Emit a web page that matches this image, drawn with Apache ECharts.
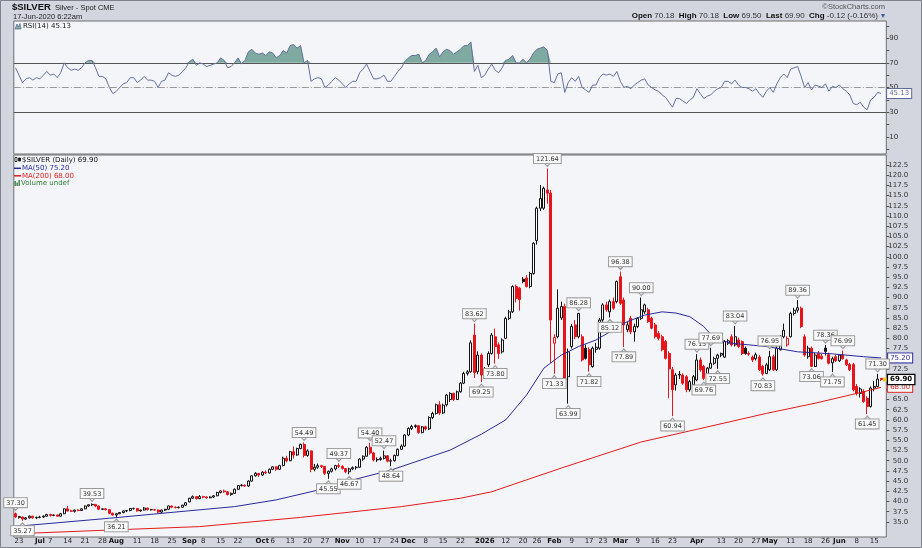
<!DOCTYPE html>
<html>
<head>
<meta charset="utf-8">
<title>$SILVER</title>
<script src="https://cdn.jsdelivr.net/npm/echarts@6.0.0/dist/echarts.min.js"></script>
<style>
html,body{margin:0;padding:0;background:#d3d6de;overflow:hidden}
#chart{width:922px;height:548px}
</style>
</head>
<body>
<div id="chart"></div>
<script>
// ---------- DATA ----------
const startDate = '2025-06-20';
const endDate = '2026-06-17';
const holidays = ['2025-07-04','2025-09-01','2025-11-27','2025-12-25','2026-01-01','2026-01-19','2026-02-16','2026-04-03','2026-05-25'];

// candles per month: [open, high, low, close]
const jun25 = [[37.0,37.30,36.0,36.2],[36.1,36.4,35.8,36.3],[36.2,36.3,35.27,35.7],[35.7,36.2,35.5,36.0],[36.0,36.6,35.8,36.4],[36.4,36.5,35.8,36.0],[36.0,36.3,35.7,36.1]];
const jul25 = [[36.1,36.5,35.9,36.2],[36.2,36.6,36.0,36.4],[36.4,37.0,36.3,36.8],[36.8,37.0,36.3,36.6],[36.6,36.8,36.4,36.7],[36.7,36.8,36.3,36.4],[36.4,37.2,36.3,37.0],[37.0,38.3,36.9,38.2],[38.2,38.9,37.5,37.7],[37.7,38.0,37.4,37.6],[37.6,38.0,37.3,37.9],[37.9,38.1,37.6,37.8],[37.8,38.3,37.7,38.2],[38.2,39.0,38.1,38.9],[38.9,39.3,38.7,39.2],[39.2,39.53,38.9,39.3],[39.3,39.4,38.6,38.9],[38.9,39.0,37.9,38.1],[38.1,38.3,37.9,38.2],[38.2,38.4,37.8,38.0],[38.0,38.1,36.9,37.1],[37.1,37.3,36.5,36.7]];
const aug25 = [[36.7,37.2,36.21,37.0],[37.0,37.4,36.9,37.3],[37.3,37.8,37.1,37.7],[37.7,37.9,37.4,37.8],[37.8,38.4,37.6,38.3],[38.3,38.5,38.0,38.3],[38.3,38.4,37.5,37.7],[37.7,38.0,37.5,37.9],[37.9,38.6,37.8,38.4],[38.4,38.5,37.8,38.0],[38.0,38.2,37.8,38.0],[38.0,38.2,37.8,37.9],[37.9,38.0,37.2,37.4],[37.4,38.0,37.1,37.9],[37.9,38.2,37.7,38.1],[38.1,39.0,37.9,38.9],[38.9,39.0,38.4,38.6],[38.6,38.8,38.3,38.5],[38.5,38.8,38.3,38.6],[38.6,39.2,38.5,39.1],[39.1,39.8,39.0,39.7]];
const sep25 = [[39.9,40.9,39.8,40.8],[40.8,41.5,40.6,41.2],[41.2,41.3,40.5,40.7],[40.7,41.6,40.6,41.2],[41.2,41.4,40.8,41.1],[41.1,41.3,40.7,40.9],[40.9,41.3,40.8,41.1],[41.1,41.6,40.9,41.4],[41.4,42.4,41.3,42.2],[42.2,42.7,42.0,42.6],[42.6,42.9,42.1,42.4],[42.4,42.5,41.5,41.7],[41.7,42.2,41.4,42.0],[42.0,43.2,41.9,43.0],[43.0,44.0,42.9,43.9],[43.9,44.3,43.7,44.0],[44.0,44.2,43.6,43.8],[43.8,45.2,43.6,45.0],[45.0,46.4,44.9,46.3],[46.3,47.2,46.1,46.9],[46.9,47.0,46.0,46.5]];
const oct25 = [[46.5,47.4,46.3,47.2],[47.2,47.6,46.8,47.0],[47.0,48.1,46.9,47.9],[47.9,48.7,47.7,48.5],[48.5,48.6,47.5,47.9],[47.9,49.0,47.7,48.8],[48.8,51.0,48.6,50.6],[50.6,51.2,49.6,50.0],[50.0,52.4,49.9,52.2],[52.2,53.5,50.5,51.4],[51.4,53.2,51.2,53.0],[53.0,54.2,52.8,54.0],[54.0,54.49,50.8,51.3],[51.3,52.8,51.0,52.4],[52.4,52.5,47.2,47.9],[47.9,49.2,47.4,48.4],[48.4,49.3,48.0,48.8],[48.8,49.0,48.2,48.6],[48.6,48.7,46.5,46.9],[46.9,47.6,45.55,47.4],[47.4,48.3,47.1,48.0],[48.0,49.0,47.6,48.8],[48.8,49.37,48.2,48.6]];
const nov25 = [[48.6,48.9,47.8,48.1],[48.1,48.2,46.9,47.3],[47.3,48.3,46.67,48.0],[48.0,48.6,47.7,48.3],[48.3,48.7,47.8,48.4],[48.4,50.6,48.2,50.4],[50.4,51.3,50.0,51.1],[51.1,53.6,51.0,53.3],[53.3,54.40,51.5,51.9],[51.9,52.2,49.8,50.2],[50.2,50.8,49.7,50.3],[50.3,51.0,50.0,50.6],[50.6,52.47,50.3,51.2],[51.2,51.4,49.6,49.9],[49.9,50.5,48.64,50.0],[50.0,51.5,49.8,51.3],[51.3,53.0,51.1,52.8],[52.8,54.0,52.6,53.6],[53.6,56.5,53.4,56.3]];
const dec25 = [[56.3,58.2,56.0,57.9],[57.9,58.8,57.5,58.4],[58.4,58.9,58.0,58.6],[58.6,58.7,56.6,56.9],[56.9,58.5,56.7,58.3],[58.3,58.6,57.4,57.8],[57.8,60.9,57.5,60.6],[60.6,62.0,60.2,61.6],[61.6,64.0,61.3,63.7],[63.7,64.6,61.2,61.7],[61.7,64.0,61.5,63.6],[63.7,66.4,63.3,66.1],[65.0,66.8,64.4,66.5],[66.5,66.7,64.6,65.0],[65.0,67.2,64.9,66.9],[66.9,69.3,66.7,69.0],[69.0,71.8,68.8,71.4],[71.4,72.2,70.9,71.8],[71.8,79.5,71.6,78.9],[80.8,83.62,70.3,71.6],[71.8,76.8,71.2,75.9],[75.9,76.3,69.25,71.0]];
const jan26 = [[71.0,73.0,70.4,72.6],[73.5,76.8,73.0,76.3],[76.3,81.3,76.0,80.8],[80.4,82.4,73.80,78.0],[78.4,79.0,75.0,76.3],[76.7,80.0,76.3,79.6],[80.0,85.3,79.8,84.9],[84.9,87.0,84.5,86.5],[86.5,93.0,86.2,92.7],[92.7,93.2,88.8,89.8],[92.3,92.6,86.8,89.5],[94.5,95.0,93.5,93.9],[94.8,95.5,92.5,92.7],[92.7,96.3,92.3,95.9],[95.9,103.6,95.6,103.3],[104.0,112.3,103.0,111.9],[111.9,117.6,111.2,114.3],[111.9,117.2,111.5,116.8],[116.4,121.64,113.0,115.6],[115.6,116.4,74.0,84.5]];
const feb26 = [[78.8,81.0,71.33,80.2],[80.4,92.0,80.0,87.4],[85.0,89.0,84.5,87.8],[87.8,88.5,69.5,70.2],[70.6,77.5,63.99,76.7],[78.0,83.5,77.5,82.9],[83.3,84.5,79.8,80.4],[80.4,86.28,80.0,86.1],[80.4,81.0,74.3,74.7],[77.6,78.5,74.8,75.1],[77.2,77.8,71.82,73.5],[73.1,78.0,72.8,77.6],[77.3,78.9,76.5,77.8],[77.6,85.0,77.2,84.5],[84.5,88.6,84.0,88.2],[88.2,89.0,86.5,87.0],[86.5,89.5,85.12,89.0],[89.0,90.0,87.0,87.4],[89.0,94.2,88.6,93.9]];
const mar26 = [[95.1,96.38,88.2,88.6],[89.4,90.0,77.89,83.3],[82.1,84.0,81.5,83.3],[84.9,85.5,81.0,81.6],[81.6,83.6,79.2,82.9],[82.9,85.2,82.5,84.9],[84.9,90.00,84.5,87.0],[86.5,88.5,86.0,88.2],[87.0,87.5,83.8,84.1],[84.9,85.3,82.2,82.5],[83.3,83.8,80.0,80.4],[81.2,81.8,79.5,80.0],[80.4,80.9,76.8,77.2],[79.2,79.6,74.8,75.1],[76.3,76.8,65.3,72.5],[72.3,73.0,60.94,67.4],[68.6,71.5,67.2,71.0],[71.0,72.0,70.0,71.2],[71.0,71.4,68.6,69.0],[70.6,71.0,66.8,67.4],[67.4,69.8,66.9,69.4],[68.6,71.0,68.2,70.6]];
const apr26 = [[69.8,76.13,69.5,74.7],[74.7,75.3,71.8,72.3],[73.1,73.5,69.76,70.2],[70.5,73.0,70.0,72.7],[72.7,77.69,72.5,73.9],[73.9,75.5,73.5,75.1],[75.1,76.2,72.55,75.9],[75.9,76.5,75.4,76.3],[75.4,79.6,75.2,79.2],[78.8,79.8,78.4,79.4],[80.4,81.0,78.0,78.4],[78.4,83.04,78.0,80.4],[79.6,80.2,77.6,78.0],[79.2,79.5,75.9,76.3],[77.6,78.0,76.0,76.3],[76.3,76.8,75.7,76.1],[75.4,75.8,74.2,74.7],[75.0,76.5,74.6,76.0],[75.4,75.9,72.0,72.3],[73.1,73.5,70.83,71.3],[71.4,74.0,71.2,73.5]];
const may26 = [[72.3,76.95,72.0,75.5],[75.5,76.0,72.0,72.3],[72.3,78.0,72.0,77.6],[77.2,80.8,77.0,80.4],[80.4,83.6,80.0,82.0],[78.4,80.5,78.0,80.0],[80.4,86.5,80.2,86.1],[86.1,87.5,85.6,86.9],[86.9,89.36,86.3,87.5],[87.4,87.8,82.5,82.9],[80.4,81.0,75.5,75.9],[75.5,78.2,75.0,77.6],[77.6,78.0,73.06,73.1],[73.1,76.5,73.0,75.9],[76.3,76.9,74.8,75.1],[75.6,76.2,74.8,75.0],[77.6,78.36,75.8,76.8],[76.0,76.5,73.6,73.9],[74.0,75.5,71.75,75.0],[75.5,76.0,74.2,74.5]];
const jun26 = [[74.5,76.0,74.2,75.9],[75.9,76.99,74.8,75.0],[74.7,75.0,73.2,73.5],[73.6,74.0,72.0,72.3],[73.6,74.0,67.0,67.4],[68.2,68.8,66.0,66.5],[66.5,68.0,65.5,67.6],[67.0,67.5,64.2,64.5],[65.3,65.8,61.45,63.3],[63.3,68.2,63.0,67.8],[67.8,69.5,67.0,68.2],[68.2,71.30,68.0,70.02],[70.18,70.18,69.50,69.90]];

// moving averages: [date, value]
const ma50Pts = [['2025-06-20',33.9],['2025-07-30',35.9],['2025-08-20',37.1],['2025-09-19',38.75],['2025-10-07',40.4],['2025-10-27',43.2],['2025-11-07',45.5],['2025-11-21',47.7],['2025-12-17',52.6],['2025-12-31',56.5],['2026-01-12',60.0],['2026-01-21',66.1],['2026-01-28',72.7],['2026-02-04',75.9],['2026-02-11',78.0],['2026-02-19',79.6],['2026-02-26',82.1],['2026-03-04',84.1],['2026-03-11',85.7],['2026-03-18',86.5],['2026-03-24',86.2],['2026-03-30',85.3],['2026-04-06',82.9],['2026-04-09',80.0],['2026-04-16',78.8],['2026-04-30',78.0],['2026-05-13',76.7],['2026-05-28',76.2],['2026-06-10',75.5],['2026-06-17',75.2]];
const ma200Pts = [['2025-06-20',32.1],['2025-07-25',32.9],['2025-09-05',33.85],['2025-10-16',36.1],['2025-11-26',38.75],['2025-12-22',40.8],['2026-01-06',42.4],['2026-01-21',45.3],['2026-02-04',48.2],['2026-03-10',54.6],['2026-04-01',57.7],['2026-04-30',61.6],['2026-05-20',64.1],['2026-06-10',66.9],['2026-06-17',68.0]];

// RSI(14), one value per trading day
const rsi = [
66,60,54,57,58,56,58,57,60,63,
60,61,58,62,70,66,64,65,64,66,
70,72,72,66,59,59,57,50,45,47,
50,53,54,58,58,54,56,59,56,56,
55,50,55,56,62,60,59,60,63,66,
71,73,68,70,69,67,68,69,70,74,
72,66,67,70,74,69,72,79,81,78,
77,78,76,79,78,74,76,80,78,84,
85,82,84,70,72,55,57,58,57,50,
52,55,58,56,53,50,53,55,55,62,
65,69,63,57,57,58,60,55,55,59,
63,66,71,74,76,76,77,70,72,77,
79,82,75,79,81,80,77,79,81,84,
84,87,63,68,58,60,65,69,64,62,
66,72,73,76,70,70,73,70,73,78,
81,82,83,80,55,54,61,62,46,54,
58,55,59,50,48,46,52,52,58,61,
60,61,59,63,55,50,51,49,52,54,
56,57,52,50,48,47,44,42,38,34,
41,41,39,37,40,42,49,45,41,43,
44,47,49,50,55,55,53,56,52,50,
50,49,47,49,45,42,47,50,46,53,
58,61,58,65,66,67,59,50,54,48,
52,51,50,53,47,51,50,52,49,47,
44,37,36,38,34,32,40,42,46,45.13];

// annotated highs / lows
const highLabels = [['2025-06-20',37.30],['2025-07-23',39.53],['2025-10-17',54.49],['2025-10-31',49.37],['2025-11-13',54.40],['2025-11-19',52.47],['2025-12-29',83.62],['2026-01-29',121.64],['2026-02-11',86.28],['2026-03-02',96.38],['2026-03-10',90.00],['2026-04-01',76.13],['2026-04-08',77.69],['2026-04-17',83.04],['2026-05-01',76.95],['2026-05-13',89.36],['2026-05-26',78.36],['2026-06-02',76.99],['2026-06-16',71.30]];
const lowLabels = [['2025-06-24',35.27],['2025-08-01',36.21],['2025-10-28',45.55],['2025-11-05',46.67],['2025-11-21',48.64],['2025-12-31',69.25],['2026-01-07',73.80],['2026-02-02',71.33],['2026-02-06',63.99],['2026-02-17',71.82],['2026-02-25',85.12],['2026-03-03',77.89],['2026-03-23',60.94],['2026-04-06',69.76],['2026-04-10',72.55],['2026-04-29',70.83],['2026-05-19',73.06],['2026-05-28',71.75],['2026-06-11',61.45]];

// x-axis tick labels
const xTickLabels = [['2025-06-23','23'],['2025-07-01','Jul'],['2025-07-07','7'],['2025-07-14','14'],['2025-07-21','21'],['2025-07-28','28'],['2025-08-01','Aug'],['2025-08-11','11'],['2025-08-18','18'],['2025-08-25','25'],['2025-09-02','Sep'],['2025-09-08','8'],['2025-09-15','15'],['2025-09-22','22'],['2025-10-01','Oct'],['2025-10-06','6'],['2025-10-13','13'],['2025-10-20','20'],['2025-10-27','27'],['2025-11-03','Nov'],['2025-11-10','10'],['2025-11-17','17'],['2025-11-24','24'],['2025-12-01','Dec'],['2025-12-08','8'],['2025-12-15','15'],['2025-12-22','22'],['2026-01-02','2026'],['2026-01-12','12'],['2026-01-20','20'],['2026-01-26','26'],['2026-02-02','Feb'],['2026-02-09','9'],['2026-02-17','17'],['2026-02-23','23'],['2026-03-02','Mar'],['2026-03-09','9'],['2026-03-16','16'],['2026-03-23','23'],['2026-04-01','Apr'],['2026-04-13','13'],['2026-04-20','20'],['2026-04-27','27'],['2026-05-01','May'],['2026-05-11','11'],['2026-05-18','18'],['2026-05-26','26'],['2026-06-01','Jun'],['2026-06-08','8'],['2026-06-15','15']];
const priceTicks = [35,37.5,40,42.5,45,47.5,50,52.5,55,57.5,60,62.5,65,67.5,70,72.5,75,77.5,80,82.5,85,87.5,90,92.5,95,97.5,100,102.5,105,107.5,110,112.5,115,117.5,120,122.5];
const rsiTickMarks = [0,10,20,30,40,50,60,70,80,90,100];
const rsiTickLabels = [10,30,50,70,90];

const lastValues = { close: 69.90, ma50: 75.20, ma200: 68.00, rsi: 45.13 };

// ---------- BUILD ----------
function tradingDays(s, e) {
  const out = [];
  const d = new Date(s + 'T00:00:00Z'), end = new Date(e + 'T00:00:00Z');
  while (d <= end) {
    const wd = d.getUTCDay(), k = d.toISOString().slice(0, 10);
    if (wd !== 0 && wd !== 6 && holidays.indexOf(k) < 0) out.push(k);
    d.setUTCDate(d.getUTCDate() + 1);
  }
  return out;
}
const dates = tradingDays(startDate, endDate);
const cats = dates.concat(['2026-06-18']); // right margin slot
const ohlc = [].concat(jun25, jul25, aug25, sep25, oct25, nov25, dec25, jan26, feb26, mar26, apr26, may26, jun26);
if (ohlc.length !== dates.length) console.warn('length mismatch', ohlc.length, dates.length);

const RED = '#e8141b', BLACK = '#111111';
const candleData = ohlc.map((r, i) => {
  const [o, h, l, c] = r;
  const prev = i > 0 ? ohlc[i - 1][3] : o;
  const col = c < prev ? RED : BLACK;
  const fill = c >= o ? '#ffffff' : col;
  return { value: [o, c, l, h], itemStyle: { color: fill, color0: fill, borderColor: col, borderColor0: col } };
});
function sparse(pts) {
  const arr = cats.map(() => null);
  pts.forEach(([d, v]) => { const k = cats.indexOf(d); if (k >= 0) arr[k] = v; });
  return arr;
}
const lastDate = dates[dates.length - 1];
const FONT = 'DejaVu Sans', SANS = 'Liberation Sans';

const boxLabel = { show: true, fontFamily: FONT, fontSize: 6.5, color: '#333', backgroundColor: '#f9f9f9',
  borderColor: '#9a9a9a', borderWidth: 1, padding: [1, 2, 0, 2], lineHeight: 8 };
const annPts = highLabels.map(([d, v]) => ({ coord: [d, v], symbol: 'triangle', symbolSize: [7, 4], symbolRotate: 180,
  symbolOffset: [0, -4], itemStyle: { color: '#f9f9f9', borderColor: '#9a9a9a', borderWidth: 1 },
  label: Object.assign({}, boxLabel, { position: 'top', distance: -1, formatter: v.toFixed(2) }) }))
 .concat(lowLabels.map(([d, v]) => ({ coord: [d, v], symbol: 'triangle', symbolSize: [7, 4], symbolRotate: 0,
  symbolOffset: [0, 4], itemStyle: { color: '#f9f9f9', borderColor: '#9a9a9a', borderWidth: 1 },
  label: Object.assign({}, boxLabel, { position: 'bottom', distance: -1, formatter: v.toFixed(2) }) })));

function tag(val, color, bold, dist) {
  return { coord: [lastDate, val], symbol: 'circle', symbolSize: 0.1, itemStyle: { color: 'rgba(0,0,0,0)' },
    label: { show: true, position: 'right', distance: dist, formatter: val.toFixed(2), fontFamily: FONT, fontSize: 7,
      fontWeight: bold ? 'bold' : 'normal', color: bold ? '#000' : color, backgroundColor: '#fff', borderColor: color,
      borderWidth: bold ? 1.3 : 1, padding: [1, 2, 0, 2], lineHeight: 8 } };
}
annPts.push({ coord: [lastDate, lastValues.close], symbol: 'rect', symbolSize: [4, 4], symbolOffset: [4, 0],
  itemStyle: { color: '#f2cf1a' },
  label: { show: true, position: 'right', distance: 1, formatter: lastValues.close.toFixed(2), fontFamily: FONT, fontSize: 7,
    fontWeight: 'bold', color: '#000', backgroundColor: '#fff', borderColor: '#000', borderWidth: 1.3, padding: [1, 2, 0, 2], lineHeight: 8 } });

const labelMap = new Map(xTickLabels);
const rsiOver = rsi.map(v => Math.max(v - 70, 0));
const rsiBase = rsi.map(() => 70);

const GL = 13.8, GR = 35.7;
const option = {
  animation: false,
  backgroundColor: '#d3d6de',
  grid: [
    { left: GL, right: GR, top: 21, height: 133, show: true, backgroundColor: '#f4f5f9', borderColor: '#6e6e6e', borderWidth: 1 },
    { left: GL, right: GR, top: 155, height: 382, show: true, backgroundColor: '#f4f5f9', borderColor: '#6e6e6e', borderWidth: 1 }
  ],
  xAxis: [
    { type: 'category', gridIndex: 0, data: cats, boundaryGap: true, axisLine: { show: false }, axisTick: { show: false }, axisLabel: { show: false }, splitLine: { show: false } },
    { type: 'category', gridIndex: 1, data: cats, boundaryGap: true, axisLine: { show: false }, axisTick: { show: false }, splitLine: { show: false },
      axisLabel: { interval: (i, v) => labelMap.has(v), margin: 1,
        formatter: v => { const t = labelMap.get(v); if (!t) return ''; return /^[0-9]{1,2}$/.test(t) ? t : '{b|' + t + '}'; },
        fontFamily: FONT, fontSize: 7, color: '#222',
        rich: { b: { fontFamily: FONT, fontSize: 7, fontWeight: 'bold', color: '#111' } } } }
  ],
  yAxis: [
    { type: 'value', gridIndex: 0, position: 'right', min: -4, max: 104, splitLine: { show: false }, axisLine: { show: false },
      axisTick: { show: true, length: 3, customValues: rsiTickMarks, lineStyle: { color: '#555' } },
      axisLabel: { customValues: rsiTickLabels, fontFamily: FONT, fontSize: 7, color: '#333', margin: 3 } },
    { type: 'value', gridIndex: 1, position: 'right', min: 31.3, max: 124.95, splitLine: { show: false }, axisLine: { show: false },
      axisTick: { show: true, length: 3, customValues: priceTicks, lineStyle: { color: '#555' } },
      axisLabel: { customValues: priceTicks, fontFamily: FONT, fontSize: 7, color: '#333', margin: 22, align: 'right',
        formatter: v => v.toFixed(1) } }
  ],
  series: [
    { name: 'base', type: 'line', xAxisIndex: 0, yAxisIndex: 0, stack: 'rsi', data: rsiBase, symbol: 'none', silent: true,
      lineStyle: { width: 0, opacity: 0 } },
    { name: 'over', type: 'line', xAxisIndex: 0, yAxisIndex: 0, stack: 'rsi', data: rsiOver, symbol: 'none', silent: true,
      lineStyle: { width: 0, opacity: 0 }, areaStyle: { color: '#7eaa9f', opacity: 1 } },
    { name: 'RSI', type: 'line', xAxisIndex: 0, yAxisIndex: 0, data: rsi, symbol: 'none', z: 5,
      lineStyle: { color: '#64719f', width: 1 },
      markLine: { silent: true, symbol: ['none', 'none'], label: { show: false }, animation: false,
        data: [ { yAxis: 70, lineStyle: { color: '#555', width: 1, type: 'solid' } },
                { yAxis: 30, lineStyle: { color: '#555', width: 1, type: 'solid' } },
                { yAxis: 50, lineStyle: { color: '#9a9a9a', width: 1, type: [7, 2, 1, 2] } } ] },
      markPoint: { silent: true, data: [ tag(lastValues.rsi, '#5d6a9c', false, 6) ] } },
    { name: 'SILVER', type: 'candlestick', xAxisIndex: 1, yAxisIndex: 1, data: candleData, barWidth: 2.5, z: 3,
      markPoint: { silent: true, data: annPts, z: 10 } },
    { name: 'MA50', type: 'line', xAxisIndex: 1, yAxisIndex: 1, data: sparse(ma50Pts), connectNulls: true, symbol: 'none', z: 4,
      lineStyle: { color: '#2a2a9c', width: 1 }, markPoint: { silent: true, data: [ tag(lastValues.ma50, '#2a2a9c', false, 7) ] } },
    { name: 'MA200', type: 'line', xAxisIndex: 1, yAxisIndex: 1, data: sparse(ma200Pts), connectNulls: true, symbol: 'none', z: 4,
      lineStyle: { color: '#e31b1b', width: 1 }, markPoint: { silent: true, data: [ tag(lastValues.ma200, '#e31b1b', false, 7) ] } }
  ],
  graphic: [
    { type: 'rect', silent: true, shape: { x: 0.5, y: 0.5, width: 921, height: 547 }, style: { fill: 'none', stroke: '#80838b', lineWidth: 1 } },
    { type: 'text', x: 12, y: 7.5, style: { text: '$SILVER', font: 'bold 9.5px "Liberation Sans"', fill: '#111', verticalAlign: 'middle' } },
    { type: 'text', x: 55, y: 7.5, style: { text: 'Silver - Spot CME', font: '7.5px "Liberation Sans"', fill: '#222', verticalAlign: 'middle' } },
    { type: 'text', x: 13, y: 16.5, style: { text: '17-Jun-2020 6:22am', font: '7.5px "Liberation Sans"', fill: '#222', verticalAlign: 'middle' } },
    { type: 'text', x: 885, y: 7, style: { text: '\u00a9StockCharts.com', font: '7.5px "Liberation Sans"', fill: '#555', align: 'right', verticalAlign: 'middle' } },
    { type: 'text', x: 878, y: 16, style: { text: '{b|Open} 70.18  {b|High} 70.18  {b|Low} 69.50  {b|Last} 69.90  {b|Chg} -0.12 (-0.16%)',
        font: '8px "Liberation Sans"', fill: '#333', align: 'right', verticalAlign: 'middle',
        rich: { b: { fontFamily: SANS, fontSize: 8, fontWeight: 'bold', fill: '#111' } } } },
    { type: 'text', x: 885, y: 16, style: { text: '\u25be', font: '8px "DejaVu Sans"', fill: '#3b5b9b', align: 'right', verticalAlign: 'middle' } },
    // RSI legend
    { type: 'polygon', silent: true, shape: { points: [[15, 29], [17, 24], [18.5, 27], [20, 23.5], [21, 29]] }, style: { fill: '#7eaa9f', stroke: '#64719f', lineWidth: 0.8 } },
    { type: 'text', x: 23, y: 26.5, style: { text: 'RSI(14) 45.13', font: '7px "DejaVu Sans"', fill: '#222', verticalAlign: 'middle' } },
    // price legend
    { type: 'rect', silent: true, shape: { x: 15, y: 157.5, width: 2, height: 4 }, style: { fill: '#fff', stroke: '#111', lineWidth: 0.8 } },
    { type: 'rect', silent: true, shape: { x: 18.5, y: 158, width: 2, height: 3 }, style: { fill: '#111', stroke: '#111', lineWidth: 0.8 } },
    { type: 'text', x: 22, y: 160, style: { text: '$SILVER (Daily) 69.90', font: '7px "DejaVu Sans"', fill: '#111', verticalAlign: 'middle' } },
    { type: 'line', silent: true, shape: { x1: 14, y1: 168.3, x2: 21, y2: 168.3 }, style: { stroke: '#2a2a9c', lineWidth: 1.5 } },
    { type: 'text', x: 22, y: 168.3, style: { text: 'MA(50) 75.20', font: '7px "DejaVu Sans"', fill: '#2a2a9c', verticalAlign: 'middle' } },
    { type: 'line', silent: true, shape: { x1: 14, y1: 175.8, x2: 21, y2: 175.8 }, style: { stroke: '#e31b1b', lineWidth: 1.5 } },
    { type: 'text', x: 22, y: 175.8, style: { text: 'MA(200) 68.00', font: '7px "DejaVu Sans"', fill: '#e31b1b', verticalAlign: 'middle' } },
    { type: 'rect', silent: true, shape: { x: 14.5, y: 181, width: 1.3, height: 5 }, style: { fill: '#2e7d32' } },
    { type: 'rect', silent: true, shape: { x: 16.5, y: 182.5, width: 1.3, height: 3.5 }, style: { fill: '#2e7d32' } },
    { type: 'rect', silent: true, shape: { x: 18.5, y: 180, width: 1.3, height: 6 }, style: { fill: '#2e7d32' } },
    { type: 'text', x: 21, y: 183.3, style: { text: 'Volume undef', font: '7px "DejaVu Sans"', fill: '#2e7d32', verticalAlign: 'middle' } }
  ]
};
const chart = echarts.init(document.getElementById('chart'), null, { renderer: 'canvas', width: 922, height: 548 });
chart.setOption(option);
</script>
</body>
</html>
